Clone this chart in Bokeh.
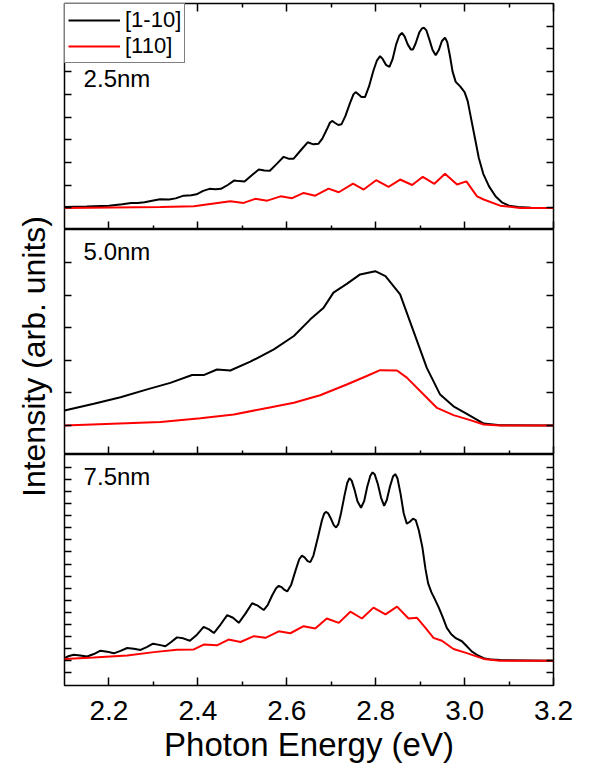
from bokeh.plotting import figure
from bokeh.models import FixedTicker, LinearAxis, Label, CustomJSTickFormatter, Title
from bokeh.layouts import column, row
from bokeh.embed import file_html
from bokeh.resources import INLINE

# ---------------- data ----------------
series_names = ["[1-10]", "[110]"]
panel_labels = ["2.5nm", "5.0nm", "7.5nm"]
x_title = "Photon Energy (eV)"
y_title = "Intensity (arb. units)"

x_major = [2.2, 2.4, 2.6, 2.8, 3.0, 3.2]
x_minor = [2.3, 2.5, 2.7, 2.9, 3.1]
x_tick_labels = ["2.2", "2.4", "2.6", "2.8", "3.0", "3.2"]

# 2.5 nm
b25_x = [2.100, 2.150, 2.200, 2.230, 2.250, 2.265, 2.280, 2.300, 2.315, 2.335, 2.350, 2.368,
         2.385, 2.397, 2.412, 2.426, 2.440, 2.452, 2.468, 2.482, 2.493, 2.505, 2.522, 2.537,
         2.550, 2.562, 2.578, 2.593, 2.605, 2.615, 2.632, 2.647, 2.660, 2.671,
         2.680, 2.690, 2.697, 2.702, 2.708, 2.716, 2.723, 2.732, 2.742, 2.750, 2.755, 2.761,
         2.768, 2.776, 2.785, 2.795, 2.803, 2.810, 2.816, 2.823, 2.831, 2.838, 2.846, 2.853,
         2.859, 2.865, 2.872, 2.879, 2.884, 2.890, 2.898, 2.904, 2.909, 2.914, 2.921, 2.928,
         2.935, 2.942, 2.949, 2.956, 2.961, 2.967, 2.973, 2.980, 2.990, 3.000, 3.007, 3.014,
         3.022, 3.032, 3.042, 3.055, 3.070, 3.085, 3.100, 3.120, 3.150, 3.200]
b25_y = [0.04, 0.06, 0.10, 0.16, 0.22, 0.22, 0.25, 0.33, 0.38, 0.37, 0.42, 0.54,
         0.56, 0.60, 0.75, 0.84, 0.82, 0.84, 1.02, 1.21, 1.18, 1.16, 1.45, 1.69,
         1.65, 1.64, 1.95, 2.25, 2.16, 2.16, 2.55, 2.89, 2.80, 2.82,
         3.05, 3.45, 3.75, 3.83, 3.75, 3.65, 3.68, 4.05, 4.60, 5.00, 5.10, 5.00,
         4.88, 4.88, 5.35, 6.05, 6.50, 6.68, 6.55, 6.30, 6.21, 6.55, 7.20, 7.58,
         7.71, 7.55, 7.20, 6.98, 6.98, 7.25, 7.72, 7.90, 7.93, 7.82, 7.40, 6.95,
         6.72, 6.95, 7.35, 7.49, 7.30, 6.70, 6.00, 5.55, 5.35, 5.10, 4.70, 4.00,
         3.20, 2.20, 1.50, 0.95, 0.50, 0.23, 0.10, 0.04, 0.01, 0.00]
r25_x = [2.100, 2.316, 2.391, 2.473, 2.503, 2.529, 2.556, 2.586, 2.612, 2.638, 2.664,
         2.694, 2.717, 2.749, 2.773, 2.801, 2.829, 2.855, 2.882, 2.906, 2.932, 2.956,
         2.983, 3.004, 3.028, 3.043, 3.080, 3.125, 3.200]
r25_y = [0.00, 0.04, 0.07, 0.29, 0.22, 0.40, 0.32, 0.51, 0.43, 0.66, 0.54,
         0.85, 0.69, 1.07, 0.81, 1.22, 0.93, 1.25, 1.01, 1.37, 1.06, 1.50,
         1.03, 1.17, 0.51, 0.37, 0.10, 0.00, 0.00]

# 5.0 nm
b50_x = [2.100, 2.166, 2.226, 2.286, 2.338, 2.387, 2.413, 2.443, 2.473, 2.518, 2.571,
         2.616, 2.653, 2.683, 2.705, 2.735, 2.765, 2.799, 2.822, 2.855, 2.885, 2.915,
         2.945, 2.975, 3.005, 3.043, 3.080, 3.200]
b50_y = [0.46, 0.67, 0.87, 1.11, 1.31, 1.55, 1.55, 1.72, 1.69, 1.96, 2.34,
         2.75, 3.26, 3.62, 4.08, 4.35, 4.64, 4.74, 4.59, 4.03, 2.90, 1.77,
         0.95, 0.59, 0.36, 0.06, 0.01, 0.00]
r50_x = [2.100, 2.316, 2.406, 2.481, 2.556, 2.616, 2.675, 2.735, 2.780, 2.810, 2.848,
         2.870, 2.900, 2.938, 2.975, 3.009, 3.043, 3.080, 3.200]
r50_y = [0.00, 0.11, 0.22, 0.34, 0.54, 0.70, 0.93, 1.26, 1.52, 1.70, 1.69,
         1.47, 1.06, 0.54, 0.32, 0.18, 0.03, 0.00, 0.00]

# 7.5 nm
b75_x = [2.100, 2.110, 2.121, 2.135, 2.151, 2.166, 2.181, 2.196, 2.211, 2.226, 2.241,
         2.256, 2.271, 2.285, 2.299, 2.313, 2.327, 2.340, 2.353, 2.367, 2.382, 2.398,
         2.413, 2.425, 2.436, 2.451, 2.466, 2.479, 2.492, 2.507, 2.522, 2.535, 2.548,
         2.557, 2.567, 2.576, 2.582, 2.588, 2.595, 2.601, 2.610, 2.620, 2.628, 2.634,
         2.640, 2.647, 2.653, 2.660, 2.670, 2.679, 2.684, 2.688, 2.693, 2.700, 2.706,
         2.711, 2.716, 2.722, 2.730, 2.736, 2.741, 2.746, 2.752, 2.759, 2.767, 2.774,
         2.781, 2.788, 2.793, 2.798, 2.805, 2.812, 2.819, 2.825, 2.832, 2.839, 2.844,
         2.849, 2.856, 2.863, 2.870, 2.877, 2.884, 2.890, 2.897, 2.905, 2.912, 2.918,
         2.925, 2.933, 2.942, 2.951, 2.960, 2.970, 2.979, 2.994, 3.005, 3.016, 3.030,
         3.043, 3.060, 3.080, 3.200]
b75_y = [0.11, 0.20, 0.25, 0.22, 0.18, 0.28, 0.42, 0.38, 0.31, 0.41, 0.53,
         0.50, 0.45, 0.57, 0.71, 0.66, 0.60, 0.78, 0.97, 0.93, 0.83, 1.08,
         1.40, 1.30, 1.15, 1.50, 1.89, 1.78, 1.57, 1.95, 2.38, 2.28, 2.10,
         2.30, 2.70, 3.00, 3.10, 3.05, 2.93, 2.87, 3.15, 3.75, 4.20, 4.35,
         4.28, 4.12, 4.08, 4.35, 5.10, 5.80, 6.08, 6.16, 6.10, 5.85, 5.60,
         5.51, 5.65, 6.10, 6.85, 7.35, 7.55, 7.45, 7.10, 6.60, 6.33, 6.60,
         7.20, 7.65, 7.79, 7.70, 7.30, 6.75, 6.41, 6.65, 7.20, 7.62, 7.72,
         7.55, 6.90, 6.10, 5.67, 5.75, 5.88, 5.82, 5.40, 4.70, 3.80, 3.20,
         2.85, 2.55, 2.20, 1.80, 1.36, 1.10, 0.95, 0.81, 0.60, 0.39, 0.22,
         0.11, 0.05, 0.03, 0.00]
r75_x = [2.100, 2.166, 2.241, 2.301, 2.353, 2.391, 2.413, 2.443, 2.469, 2.496, 2.526,
         2.552, 2.582, 2.608, 2.638, 2.664, 2.690, 2.717, 2.743, 2.769, 2.795, 2.822,
         2.848, 2.874, 2.893, 2.912, 2.930, 2.949, 2.975, 3.005, 3.043, 3.080, 3.200]
r75_y = [0.08, 0.14, 0.22, 0.36, 0.46, 0.47, 0.67, 0.64, 0.88, 0.78, 1.02,
         0.95, 1.22, 1.14, 1.43, 1.34, 1.75, 1.57, 2.03, 1.75, 2.20, 1.92,
         2.24, 1.75, 1.78, 1.36, 0.95, 0.83, 0.49, 0.32, 0.08, 0.00, 0.00]

y_ranges = [(-0.95, 9.0), (-0.89, 6.02), (-1.02, 8.53)]
y_ticks = [[0, 1, 2, 3, 4, 5, 6, 7, 8],
           [0, 1, 2, 3, 4, 5],
           [-0.5, 0, 0.5, 1, 1.5, 2, 2.5, 3, 3.5, 4, 4.5, 5, 5.5, 6, 6.5, 7, 7.5, 8]]
label_y = [5.68, 5.35, 7.62]

FONT = "Liberation Sans"
BLACK = "#000000"
RED = "#ff0000"
LEFT_W = 56


def blank(axis):
    axis.formatter = CustomJSTickFormatter(code="return ''")
    axis.major_label_text_font_size = "1px"
    axis.major_label_standoff = 0


def style_axis(axis, major_len, minor_len):
    axis.axis_line_color = None
    axis.major_tick_in = major_len
    axis.major_tick_out = 0
    axis.minor_tick_in = minor_len
    axis.minor_tick_out = 0
    axis.major_tick_line_width = 1.5
    axis.minor_tick_line_width = 1.5
    axis.major_tick_line_color = BLACK
    axis.minor_tick_line_color = BLACK


def make_panel(i, bx, by, rx, ry, fh, top_axis, bottom_labels, legend, border_top):
    p = figure(x_range=(2.1, 3.2), y_range=y_ranges[i], frame_width=489, frame_height=fh,
               output_backend="svg", toolbar_location=None,
               min_border_left=64 - LEFT_W, min_border_right=30,
               min_border_top=border_top, min_border_bottom=0,
               outline_line_color=BLACK, outline_line_width=1.5, outline_line_alpha=1.0,
               background_fill_color="white", border_fill_color="white")
    p.xgrid.visible = False
    p.ygrid.visible = False

    xa = p.xaxis[0]
    xa.ticker = FixedTicker(ticks=x_major, minor_ticks=x_minor)
    style_axis(xa, 8, 4)
    if bottom_labels:
        xa.major_label_overrides = {v: s for v, s in zip(x_major, x_tick_labels)}
        xa.major_label_text_font = FONT
        xa.major_label_text_font_size = "28px"
        xa.major_label_text_color = BLACK
        xa.major_label_standoff = 15
        xa.axis_label = x_title
        xa.axis_label_text_font = FONT
        xa.axis_label_text_font_size = "33px"
        xa.axis_label_text_font_style = "normal"
        xa.axis_label_text_color = BLACK
        xa.axis_label_standoff = 3
    else:
        blank(xa)

    ya = p.yaxis[0]
    ya.ticker = FixedTicker(ticks=y_ticks[i], minor_ticks=[])
    style_axis(ya, 7, 0)
    blank(ya)

    ra = LinearAxis(ticker=FixedTicker(ticks=y_ticks[i], minor_ticks=[]))
    style_axis(ra, 7, 0)
    blank(ra)
    p.add_layout(ra, "right")

    if top_axis:
        ta = LinearAxis(ticker=FixedTicker(ticks=x_major, minor_ticks=x_minor))
        style_axis(ta, 8, 4)
        blank(ta)
        p.add_layout(ta, "above")

    if legend:
        p.line(bx, by, line_color=BLACK, line_width=2, legend_label=series_names[0])
        p.line(rx, ry, line_color=RED, line_width=2, legend_label=series_names[1])
        lg = p.legend[0]
        lg.location = "top_left"
        lg.margin = 0
        lg.padding = 3
        lg.spacing = 0
        lg.label_height = 26
        lg.glyph_height = 26
        lg.glyph_width = 52
        lg.label_standoff = 5
        lg.label_text_font = FONT
        lg.label_text_font_size = "22px"
        lg.label_text_color = BLACK
        lg.border_line_color = BLACK
        lg.border_line_width = 1.5
        lg.background_fill_color = "white"
        lg.background_fill_alpha = 1.0
    else:
        p.line(bx, by, line_color=BLACK, line_width=2)
        p.line(rx, ry, line_color=RED, line_width=2)

    p.add_layout(Label(x=2.143, y=label_y[i], text=panel_labels[i], text_font=FONT,
                       text_font_size="24px", text_color=BLACK, text_baseline="middle"))
    return p


p1 = make_panel(0, b25_x, b25_y, r25_x, r25_y, 226, True, False, True, 3)
p2 = make_panel(1, b50_x, b50_y, r50_x, r50_y, 225, False, False, False, 0)
p3 = make_panel(2, b75_x, b75_y, r75_x, r75_y, 231, False, True, False, 0)

# side figure carrying the shared, rotated y-axis title
side = figure(width=LEFT_W, height=712, output_backend="svg", toolbar_location=None,
              x_axis_type=None, y_axis_type=None, title=None,
              min_border_left=51, min_border_right=0, min_border_top=0, min_border_bottom=0,
              outline_line_color=None, background_fill_color="white",
              border_fill_color="white")
side.xgrid.visible = False
side.ygrid.visible = False
side.add_layout(Title(text=y_title, align="center", text_font=FONT, text_font_size="32px",
                      text_font_style="normal", text_color=BLACK, standoff=0), "left")

layout = row(side, column(p1, p2, p3, spacing=0), spacing=0)
open("out.html", "w").write(file_html(layout, INLINE))
